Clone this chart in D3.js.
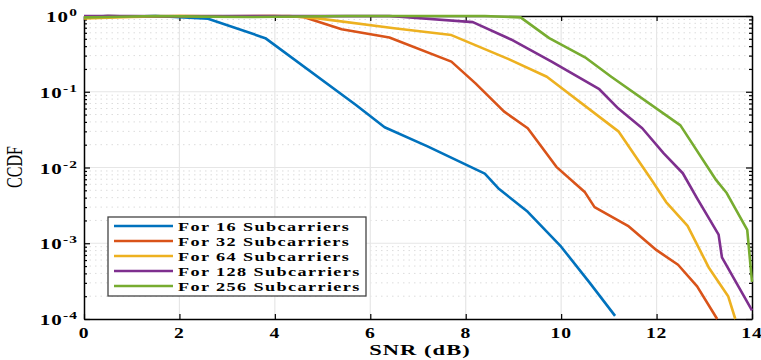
<!DOCTYPE html>
<html>
<head>
<meta charset="utf-8">
<script src="https://cdn.jsdelivr.net/npm/d3@7"></script>
<style>
  body { margin: 0; background: #fff; }
  svg { display: block; }
  text { font-family: "Liberation Serif", "Times New Roman", serif; }
</style>
</head>
<body>
<svg id="chart" width="761" height="360"></svg>
<script>
// CCDF vs SNR for different numbers of subcarriers

var seriesNames = ["For 16 Subcarriers", "For 32 Subcarriers", "For 64 Subcarriers",
                   "For 128 Subcarriers", "For 256 Subcarriers"];
var seriesColors = ["#0072BD", "#D95319", "#EDB120", "#7E2F8E", "#77AC30"];

var snr16  = [0, 0.5, 1, 1.5, 2.6, 3.8, 5.7, 6.3, 7.2, 8.4, 8.7, 9.3, 10.0, 10.6, 11.13];
var ccdf16 = [0.97, 1.0, 0.98, 1.0, 0.92, 0.51, 0.067, 0.034, 0.019, 0.0083, 0.0052, 0.0026, 0.0009, 0.0003, 0.00011];

var snr32  = [0, 0.5, 1, 2, 3, 4, 4.6, 5.4, 6.4, 7.7, 8.2, 8.8, 9.3, 9.9, 10.5, 10.7, 11.4, 12.0, 12.45, 12.85, 13.27];
var ccdf32 = [0.96, 1.0, 0.98, 1.0, 0.99, 1.0, 0.97, 0.67, 0.52, 0.25, 0.13, 0.055, 0.033, 0.0102, 0.0047, 0.0030, 0.0017, 0.00081, 0.00052, 0.00027, 0.0001];

var snr64  = [0, 1, 2, 3, 4.3, 4.9, 6.5, 7.7, 8.9, 9.7, 11.2, 11.9, 12.2, 12.65, 13.1, 13.5, 13.65];
var ccdf64 = [0.93, 0.97, 1.0, 0.98, 1.0, 0.93, 0.69, 0.56, 0.27, 0.158, 0.03, 0.0068, 0.0035, 0.0017, 0.00047, 0.0002, 0.0001];

var snr128  = [0, 1, 2, 3, 4, 5, 6.4, 8.15, 8.95, 9.8, 10.8, 11.2, 11.7, 12.15, 12.55, 12.85, 13.3, 13.37, 14];
var ccdf128 = [1, 1, 0.99, 1, 1, 1, 1, 0.83, 0.49, 0.25, 0.108, 0.06, 0.033, 0.0154, 0.0084, 0.0039, 0.0013, 0.00065, 0.00013];

var snr256  = [0, 0.5, 1.5, 2.5, 3.5, 5.5, 7, 8.4, 9.15, 9.75, 10.5, 11.05, 12.5, 13.25, 13.47, 13.9, 14];
var ccdf256 = [0.96, 0.97, 1.0, 0.98, 0.97, 1.0, 1.0, 1.0, 0.96, 0.51, 0.285, 0.158, 0.036, 0.0068, 0.0046, 0.0015, 0.00031];

var xTicks = [0, 2, 4, 6, 8, 10, 12, 14];
var yTickExps = [-4, -3, -2, -1, 0];

var svg = d3.select("#chart");
var plotLeft = 84, plotRight = 752, plotTop = 16, plotBottom = 319;
var stretch = 1.4;   // the picture's text is wide

var x = d3.scaleLinear().domain([0, 14]).range([plotLeft, plotRight]);
var y = d3.scaleLog().domain([1e-4, 1]).range([plotBottom, plotTop]);

// minor grid (dotted, horizontal only)
var minorVals = [];
yTickExps.slice(0, -1).forEach(function(e) {
    for (var k = 2; k <= 9; k++) minorVals.push(k * Math.pow(10, e));
});
svg.append("g").selectAll("line")
    .data(minorVals).enter().append("line")
    .attr("x1", plotLeft).attr("x2", plotRight)
    .attr("y1", function(d) { return y(d); })
    .attr("y2", function(d) { return y(d); })
    .attr("stroke", "#dcdcdc")
    .attr("stroke-width", 1)
    .attr("stroke-dasharray", "1.5,4");

// major grid
svg.append("g").selectAll("line")
    .data(xTicks.slice(1, -1)).enter().append("line")
    .attr("x1", function(d) { return x(d); }).attr("x2", function(d) { return x(d); })
    .attr("y1", plotTop).attr("y2", plotBottom)
    .attr("stroke", "#e6e6e6").attr("stroke-width", 1.2);
svg.append("g").selectAll("line")
    .data(yTickExps.slice(1, -1)).enter().append("line")
    .attr("x1", plotLeft).attr("x2", plotRight)
    .attr("y1", function(d) { return y(Math.pow(10, d)); })
    .attr("y2", function(d) { return y(Math.pow(10, d)); })
    .attr("stroke", "#e6e6e6").attr("stroke-width", 1.2);

// axes, ticks pointing in (box on)
var yMajor = yTickExps.map(function(e) { return Math.pow(10, e); });
function boxAxis(axis, tr) {
    var g = svg.append("g").attr("transform", tr).call(axis);
    g.select(".domain").attr("stroke", "#000").attr("stroke-width", 1.5);
    g.selectAll(".tick line").attr("stroke", "#000").attr("stroke-width", 1.2);
    g.selectAll(".tick text").remove();
    return g;
}
boxAxis(d3.axisBottom(x).tickValues(xTicks).tickSizeInner(-5).tickSizeOuter(0), "translate(0," + plotBottom + ")");
boxAxis(d3.axisTop(x).tickValues(xTicks).tickSizeInner(-5).tickSizeOuter(0), "translate(0," + plotTop + ")");
boxAxis(d3.axisLeft(y).tickValues(yMajor).tickSizeInner(-6).tickSizeOuter(0), "translate(" + plotLeft + ",0)");
boxAxis(d3.axisRight(y).tickValues(yMajor).tickSizeInner(-6).tickSizeOuter(0), "translate(" + plotRight + ",0)");
boxAxis(d3.axisLeft(y).tickValues(minorVals).tickSizeInner(-3).tickSizeOuter(0), "translate(" + plotLeft + ",0)")
    .select(".domain").remove();
boxAxis(d3.axisRight(y).tickValues(minorVals).tickSizeInner(-3).tickSizeOuter(0), "translate(" + plotRight + ",0)")
    .select(".domain").remove();

// tick labels
svg.append("g").selectAll("text")
    .data(xTicks).enter().append("text")
    .attr("transform", function(d) { return "translate(" + x(d) + ",338) scale(" + stretch + ",1)"; })
    .attr("text-anchor", "middle")
    .attr("font-size", 14).attr("font-weight", "bold")
    .attr("letter-spacing", 0.6)
    .text(function(d) { return d; });

var yl = svg.append("g").selectAll("text")
    .data(yTickExps).enter().append("text")
    .attr("transform", function(d) { return "translate(78," + (y(Math.pow(10, d)) + 6) + ") scale(" + stretch + ",1)"; })
    .attr("text-anchor", "end")
    .attr("font-size", 15).attr("font-weight", "bold")
    .attr("letter-spacing", 0.8);
yl.append("tspan").text("10");
yl.append("tspan").attr("dy", -6).attr("font-size", 11)
    .text(function(d) { return d === 0 ? "0" : "-" + Math.abs(d); });

// axis titles
svg.append("text")
    .attr("transform", "translate(420,355) scale(1.5,1)")
    .attr("text-anchor", "middle")
    .attr("font-size", 15).attr("font-weight", "bold")
    .attr("letter-spacing", 0.7)
    .text("SNR (dB)");
svg.append("text")
    .attr("transform", "translate(22,167) rotate(-90) scale(1,1.4)")
    .attr("text-anchor", "middle")
    .attr("font-size", 16)
    .text("CCDF");

// curves
var snrData = [snr16, snr32, snr64, snr128, snr256];
var ccdfData = [ccdf16, ccdf32, ccdf64, ccdf128, ccdf256];
var line = d3.line()
    .x(function(d) { return x(d[0]); })
    .y(function(d) { return y(d[1]); });
snrData.forEach(function(xs, i) {
    var pts = xs.map(function(v, j) { return [v, ccdfData[i][j]]; });
    svg.append("path")
        .datum(pts)
        .attr("d", line)
        .attr("fill", "none")
        .attr("stroke", seriesColors[i])
        .attr("stroke-width", 2.6)
        .attr("stroke-linejoin", "round");
});

// legend
var lg = svg.append("g");
lg.append("rect")
    .attr("x", 108).attr("y", 217).attr("width", 258).attr("height", 79)
    .attr("fill", "#fff").attr("stroke", "#444").attr("stroke-width", 1.3);
var rows = lg.selectAll("g.row")
    .data(seriesNames).enter().append("g")
    .attr("transform", function(d, i) { return "translate(0," + (226 + i * 15) + ")"; });
rows.append("line")
    .attr("x1", 114).attr("x2", 173)
    .attr("stroke", function(d, i) { return seriesColors[i]; })
    .attr("stroke-width", 2.6);
rows.append("text")
    .attr("transform", "translate(178,4.5) scale(" + stretch + ",1)")
    .attr("font-size", 13).attr("font-weight", "bold")
    .attr("letter-spacing", 1)
    .text(function(d) { return d; });
</script>
</body>
</html>
